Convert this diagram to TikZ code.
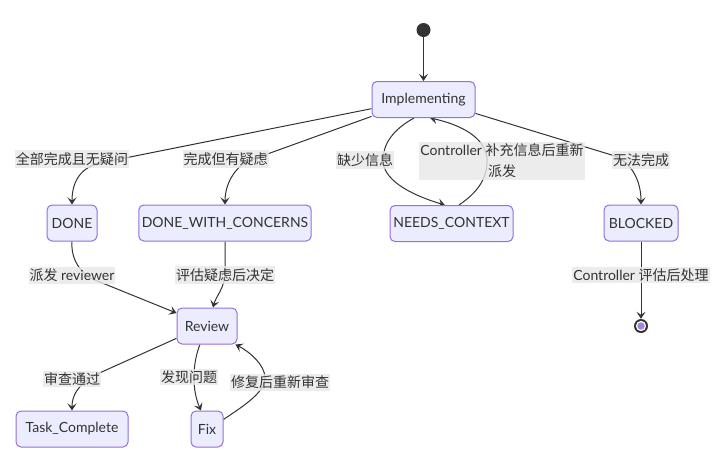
\documentclass[tikz,border=0pt]{standalone}
\usepackage{fontspec}
\setmainfont{Lato}
\newfontfamily\cjk{Noto Sans CJK SC}
\usetikzlibrary{arrows.meta, backgrounds}
\definecolor{cFill}{HTML}{ECECFF}
\definecolor{cStroke}{HTML}{9370DB}
\definecolor{cLine}{HTML}{333333}
\definecolor{cLabel}{HTML}{E8E8E8}
\newcommand{\zh}[1]{{\cjk #1}}
\tikzset{
	state/.style   ={rectangle, rounded corners=5pt, draw=cStroke, fill=cFill, line width=1pt, minimum height=36pt, inner xsep=3pt, text=cLine, font=\fontsize{14}{17}\selectfont},
	lbl/.style     ={fill=cLabel, fill opacity=0.8, text opacity=1, text=cLine, inner xsep=1pt, inner ysep=2pt, align=center, font=\fontsize{14}{21}\selectfont},
	startdot/.style={circle, fill=cLine, minimum size=14pt, inner sep=0pt},
	enddot/.style  ={circle, fill=cLine, minimum size=14pt, inner sep=0pt},
	tr/.style      ={-{Stealth[length=7pt, width=9pt, inset=3pt]}, draw=cLine, line width=1pt},
}
\begin{document}
\begin{tikzpicture}[x=1pt, y=-1pt]
	\useasboundingbox (0,0) rectangle (725,451);
	% states
	\node[startdot] (start) at (423.5,30) {};
	\node[state, minimum width=103pt] (impl) at (423.5,99.5) {Implementing};
	\node[state, minimum width=50pt] (done) at (72,223) {DONE};
	\node[state, minimum width=166pt] (dwc) at (225,223) {DONE\_WITH\_CONCERNS};
	\node[state, minimum width=123pt] (needs) at (451.5,223.5) {NEEDS\_CONTEXT};
	\node[state, minimum width=74pt] (blocked) at (641,223) {BLOCKED};
	\node[state, minimum width=60pt] (review) at (207,326) {Review};
	\node[state, minimum width=112pt] (task) at (72,429) {Task\_Complete};
	\node[state, minimum width=32pt] (fix) at (207,429) {Fix};
	\node[enddot] (stop) at (641,326) {};
	\fill[cStroke!85!white, draw=white, line width=1.2pt] (stop) circle (4.5);
	% edge labels
	\node[lbl] (lDone) at (72,159) {\zh{全部完成且无疑问}};
	\node[lbl] (lDwc) at (225.5,159) {\zh{完成但有疑虑}};
	\node[lbl] (lNeeds) at (365,160) {\zh{缺少信息}};
	\node[lbl] (lBack) at (502,161) {Controller \zh{补充信息后重新}\\\zh{派发}};
	\node[lbl] (lBlocked) at (641,160) {\zh{无法完成}};
	\node[lbl] (lDispatch) at (72,275) {\zh{派发} reviewer};
	\node[lbl] (lAssess) at (225,275) {\zh{评估疑虑后决定}};
	\node[lbl] (lHandle) at (641,275) {Controller \zh{评估后处理}};
	\node[lbl] (lPass) at (72,379) {\zh{审查通过}};
	\node[lbl] (lIssue) at (189,377) {\zh{发现问题}};
	\node[lbl] (lRecheck) at (280,382) {\zh{修复后重新审查}};
	% transitions
	\begin{scope}[on background layer]
		\fill[white] (0,0) rectangle (725,451);
		\draw[tr] (start) -- (impl);
		\draw[tr] (impl.190) -- (100,163) .. controls (78,168) and (72,185) .. (done.north);
		\draw[tr] (impl.198) -- (248,161) .. controls (234,168) and (225,185) .. (dwc.north);
		\draw[tr] (impl.243) .. controls (392,130) and (383,145) .. (383,160)
			.. controls (383,178) and (405,193) .. (needs.110);
		\draw[tr] (needs.68) .. controls (478,192) and (488,178) .. (487,158)
			.. controls (485,138) and (462,125) .. (impl.290);
		\draw[tr] (impl.345) -- (615,156) .. controls (635,165) and (641,185) .. (blocked.north);
		\draw[tr] (done.south) .. controls (71,255) and (76,268) .. (90,278) -- (review.157);
		\draw[tr] (dwc.south) -- (225,272) .. controls (225,288) and (216,296) .. (review.72);
		\draw[tr] (blocked) -- (stop);
		\draw[tr] (review.202) -- (95,375) .. controls (78,385) and (72,395) .. (task.north);
		\draw[tr] (review.249) .. controls (192,365) and (192,390) .. (fix.108);
		\draw[tr] (fix.30) .. controls (245,405) and (265,392) .. (265,378)
			.. controls (265,365) and (250,352) .. (review.327);
	\end{scope}
\end{tikzpicture}
\end{document}
